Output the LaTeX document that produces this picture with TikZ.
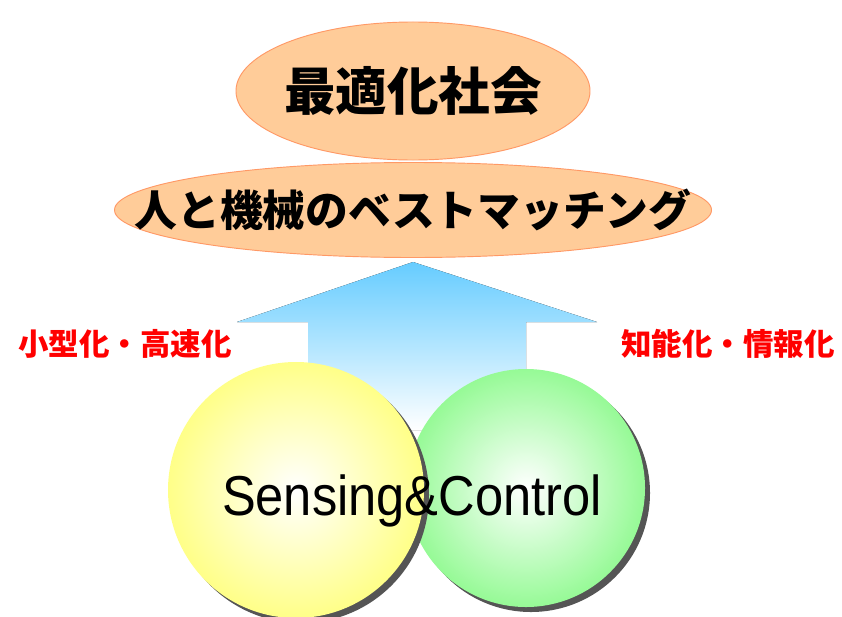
\documentclass[tikz,border=0pt]{standalone}
\usepackage{fontspec}
\setmainfont{Liberation Sans}
\newfontfamily\jpfont{Noto Sans CJK JP}
\usepackage{graphicx}
\usetikzlibrary{shapes,positioning,calc,shadows}

\definecolor{peach}{RGB}{255,204,153}
\definecolor{peachline}{RGB}{255,153,102}
\definecolor{skyblue}{RGB}{102,204,255}
\definecolor{lemon}{RGB}{255,255,136}
\definecolor{mint}{RGB}{150,250,150}
\definecolor{shadowgray}{RGB}{85,85,85}

\begin{document}
\begin{tikzpicture}[x=0.03cm,y=-0.03cm,
    bubble/.style={ellipse,draw=peachline,fill=peach,line width=0.8pt,inner sep=0pt},
    ball/.style={circle,inner sep=0pt,
        drop shadow={shadow xshift=0.15cm,shadow yshift=-0.15cm,fill=shadowgray,opacity=1}},
    redlbl/.style={text=red,font=\jpfont\bfseries\fontsize{26}{30}\selectfont}]
    \useasboundingbox (0,0) rectangle (842,616);

    % goal ellipses
    \node[bubble,minimum width=17.91cm,minimum height=2.85cm] (matching) at (413,210) {};
    \node[bubble,minimum width=10.62cm,minimum height=4.14cm] (society) at (413,91) {};
    \node[font=\jpfont\bfseries\fontsize{36.5}{40}\selectfont] (matchtext) at (matching.center) {人と機械のベストマッチング};
    \node[font=\jpfont\bfseries\fontsize{44}{48}\selectfont] (goaltext) at (society.center) {最適化社会};

    % upward arrow
    \fill[top color=skyblue,bottom color=white]
        (413,262) -- (597,322) -- (526,322) -- (526,430) -- (308,430) -- (308,322) -- (237,322) -- cycle;

    % side labels
    \node[redlbl] (small) at (125,344) {小型化・高速化};
    \node[redlbl] (smart) at (728,344) {知能化・情報化};

    % circles
    \node[ball,minimum size=7.14cm,inner color=white,outer color=mint] (control) at (526,488) {};
    \node[ball,minimum size=7.68cm,inner color=white,outer color=lemon] (sensing) at (296,490) {};

    \node[font=\fontsize{48}{52}\selectfont,anchor=base] (sc) at (412,515) {\scalebox{0.9}[1]{Sensing\&Control}};
\end{tikzpicture}
\end{document}
